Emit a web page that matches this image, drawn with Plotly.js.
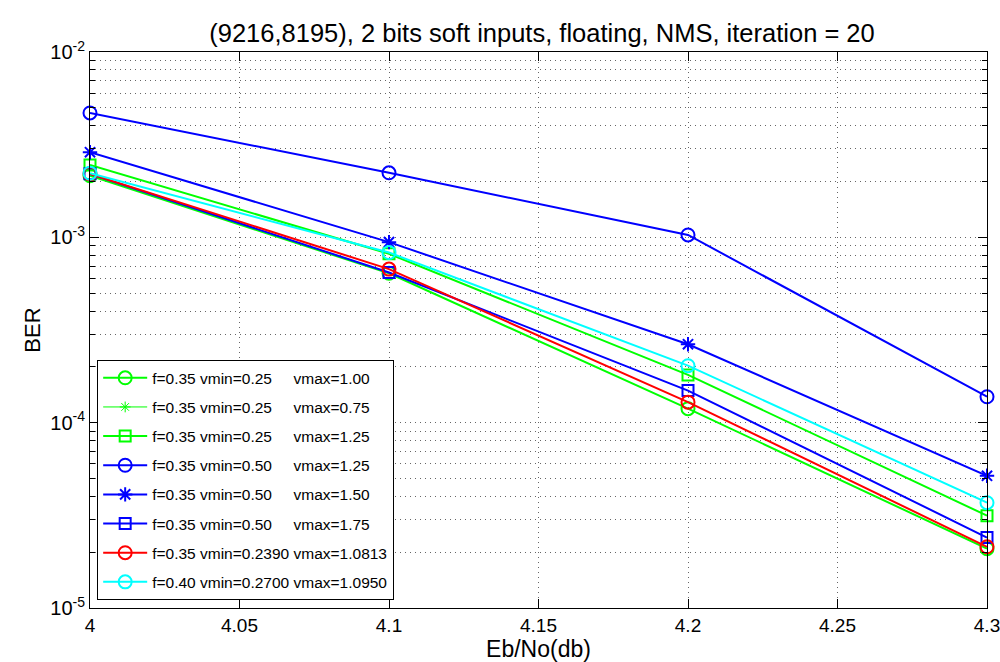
<!DOCTYPE html>
<html>
<head>
<meta charset="utf-8">
<script src="https://cdn.plot.ly/plotly-3.0.1.min.js"></script>
<style>
  html, body { margin: 0; padding: 0; background: #fff; }
  #chart { width: 1000px; height: 662px; }
</style>
</head>
<body>
<div id="chart"></div>
<script>
// Eb/No operating points (dB)
const ebno = [4.0, 4.1, 4.2, 4.3];

// Bit error rate per decoder setting
const berF035Min025Max100 = [2.15e-3, 6.40e-4, 1.19e-4, 2.09e-5];
const berF035Min025Max075 = [null, null, null, null]; // no points recorded for this setting
const berF035Min025Max125 = [2.46e-3, 8.15e-4, 1.81e-4, 3.15e-5];
const berF035Min050Max125 = [4.69e-3, 2.23e-3, 1.03e-3, 1.38e-4];
const berF035Min050Max150 = [2.88e-3, 9.42e-4, 2.65e-4, 5.17e-5];
const berF035Min050Max175 = [2.20e-3, 6.46e-4, 1.49e-4, 2.40e-5];
const berF035Min0239Max10813 = [2.20e-3, 6.74e-4, 1.29e-4, 2.14e-5];
const berF040Min0270Max10950 = [2.22e-3, 8.28e-4, 2.03e-4, 3.70e-5];

// Legend labels (non-breaking spaces keep the vmax column aligned)
const sp = '\u00A0';
const labels = [
  'f=0.35 vmin=0.25' + sp.repeat(5) + 'vmax=1.00',
  'f=0.35 vmin=0.25' + sp.repeat(5) + 'vmax=0.75',
  'f=0.35 vmin=0.25' + sp.repeat(5) + 'vmax=1.25',
  'f=0.35 vmin=0.50' + sp.repeat(5) + 'vmax=1.25',
  'f=0.35 vmin=0.50' + sp.repeat(5) + 'vmax=1.50',
  'f=0.35 vmin=0.50' + sp.repeat(5) + 'vmax=1.75',
  'f=0.35 vmin=0.2390 vmax=1.0813',
  'f=0.40 vmin=0.2700 vmax=1.0950'
];

// axis tick labels
const xTickVals = [4, 4.05, 4.1, 4.15, 4.2, 4.25, 4.3];
const xTickText = ['4', '4.05', '4.1', '4.15', '4.2', '4.25', '4.3'];
const yTickVals = [1e-5, 1e-4, 1e-3, 1e-2];
const yTickText = ['10<sup>-5</sup>', '10<sup>-4</sup>', '10<sup>-3</sup>', '10<sup>-2</sup>'];

const GREEN = '#00ff00', BLUE = '#0000ff', RED = '#ff0000', CYAN = '#00ffff';

let groupIndex = 0;
function series(y, name, color, symbol, size, width) {
  groupIndex += 1;
  return {
    x: ebno, y: y, name: name, type: 'scatter', mode: 'lines+markers',
    legendgroup: 'g' + groupIndex,
    cliponaxis: false,
    line: { color: color, width: width },
    marker: { symbol: symbol, size: size, color: color, line: { color: color, width: width } }
  };
}

const traces = [
  series(berF035Min025Max100, labels[0], GREEN, 'circle-open', 13, 2),
  series(berF035Min025Max075, labels[1], GREEN, 'asterisk-open', 9, 1),
  series(berF035Min025Max125, labels[2], GREEN, 'square-open', 11, 2),
  series(berF035Min050Max125, labels[3], BLUE, 'circle-open', 13, 2),
  series(berF035Min050Max150, labels[4], BLUE, 'asterisk-open', 12, 2),
  series(berF035Min050Max175, labels[5], BLUE, 'square-open', 11, 2),
  series(berF035Min0239Max10813, labels[6], RED, 'circle-open', 13, 2),
  series(berF040Min0270Max10950, labels[7], CYAN, 'circle-open', 13, 2)
];

// minor grid positions for each decade
const minorVals = [];
for (let e = -5; e < -2; e++) {
  for (let m = 2; m <= 9; m++) minorVals.push(m * Math.pow(10, e));
}

const FONT = 'Liberation Sans, Arial, sans-serif';
const GRID = '#666666';
const DOTS = '1px,4px';

const layout = {
  width: 1000, height: 662,
  margin: { l: 90, r: 13, t: 52, b: 54 },
  paper_bgcolor: '#fff', plot_bgcolor: '#fff',
  font: { family: FONT, size: 20, color: '#000' },
  title: {
    text: '(9216,8195), 2 bits soft inputs, floating, NMS, iteration = 20',
    font: { family: FONT, size: 25.5, color: '#000' },
    x: 0.542, xanchor: 'center', y: 0.95, yanchor: 'middle'
  },
  showlegend: true,
  legend: {
    x: 0.008, y: 0.014, xanchor: 'left', yanchor: 'bottom',
    bgcolor: '#fff', bordercolor: '#000', borderwidth: 1,
    font: { family: FONT, size: 15.5, color: '#000' },
    itemwidth: 44, tracegroupgap: 6
  },
  xaxis: {
    range: [4, 4.3],
    tickmode: 'array', tickvals: xTickVals, ticktext: xTickText,
    ticklabeloverflow: 'allow',
    showline: true, linecolor: '#000', linewidth: 1, mirror: 'ticks',
    ticks: 'inside', ticklen: 9, tickcolor: '#000',
    showgrid: true, gridcolor: GRID, griddash: DOTS, gridwidth: 1,
    zeroline: false,
    tickfont: { family: FONT, size: 19 },
    title: { text: 'Eb/No(db)', font: { family: FONT, size: 23 }, standoff: 5 }
  },
  yaxis: {
    type: 'log', range: [-5, -2],
    tickmode: 'array', tickvals: yTickVals, ticktext: yTickText,
    showline: true, linecolor: '#000', linewidth: 1, mirror: 'ticks',
    ticks: 'inside', ticklen: 9, tickcolor: '#000',
    showgrid: true, gridcolor: GRID, griddash: DOTS, gridwidth: 1,
    zeroline: false,
    tickfont: { family: FONT, size: 20 },
    minor: {
      tickmode: 'array', tickvals: minorVals,
      ticks: 'inside', ticklen: 5, tickcolor: '#000',
      showgrid: true, gridcolor: GRID, griddash: DOTS, gridwidth: 1
    },
    title: { text: 'BER', font: { family: FONT, size: 22 }, standoff: 3 }
  }
};

Plotly.newPlot('chart', traces, layout, { displayModeBar: false, staticPlot: true });
</script>
</body>
</html>
